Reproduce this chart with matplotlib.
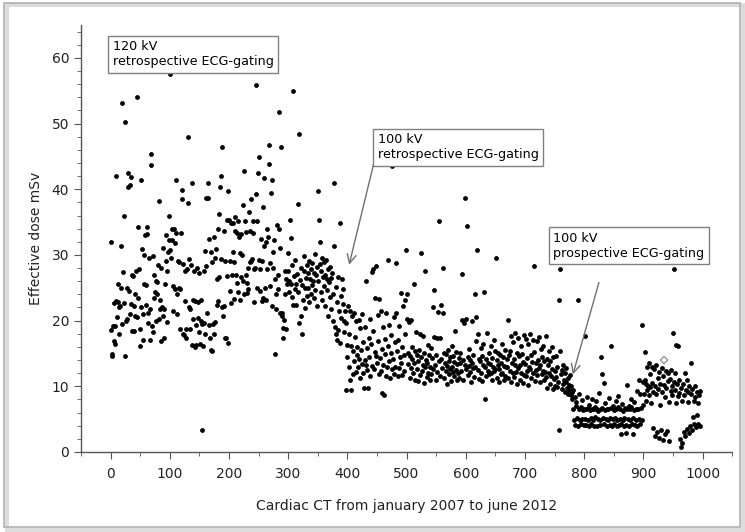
"""Effective dose per cardiac CT case, Jan 2007 - Jun 2012, with protocol changes."""
import matplotlib

matplotlib.use("Agg")
import matplotlib.pyplot as plt
from matplotlib.patches import Rectangle
from matplotlib.ticker import MultipleLocator
import numpy as np

# effective dose (mSv) per consecutive case, 50 cases per list
dose_000 = [31.9, 18.6, 14.9, 14.6, 19.2, 22.7, 16.9, 16.5, 19.2, 23.0,
            42.0, 20.5, 22.8, 25.5, 17.9, 22.0, 22.2, 25.0, 31.4, 19.5,
            53.2, 27.4, 22.7, 35.9, 50.2, 14.6, 20.0, 25.0, 20.2, 42.5,
            40.3, 24.5, 21.0, 40.7, 22.5, 41.9, 18.4, 27.0, 26.8, 18.4,
            22.2, 24.0, 20.7, 27.5, 54.0, 20.6, 23.5, 34.2, 27.8, 16.2]
dose_050 = [18.7, 22.0, 41.4, 30.9, 17.0, 21.0, 25.5, 30.0, 33.1, 22.3,
            25.4, 33.2, 34.2, 21.2, 19.7, 29.5, 17.0, 21.8, 43.7, 45.3,
            19.2, 29.9, 18.2, 23.5, 27.0, 24.3, 26.0, 20.0, 25.9, 24.0,
            28.5, 20.2, 38.2, 23.2, 21.7, 16.9, 28.0, 22.1, 20.7, 31.0,
            17.3, 21.8, 25.5, 29.0, 33.0, 27.5, 19.8, 30.5, 32.3, 35.9]
dose_100 = [57.6, 30.7, 29.6, 34.0, 32.3, 25.3, 21.5, 34.0, 24.8, 31.8,
            41.4, 33.4, 24.0, 21.0, 29.1, 28.9, 25.0, 18.7, 24.8, 33.3,
            39.9, 38.5, 18.0, 28.6, 17.8, 27.6, 23.0, 18.7, 17.4, 27.8,
            37.9, 47.9, 22.0, 29.4, 18.7, 21.8, 28.5, 41.0, 16.3, 23.2,
            20.2, 27.6, 16.0, 23.0, 19.4, 16.3, 28.0, 20.4, 22.9, 18.2]
dose_150 = [27.3, 16.5, 23.1, 20.0, 3.4, 19.5, 16.2, 27.5, 19.7, 18.0,
            30.6, 38.7, 28.3, 21.1, 38.7, 41.0, 19.4, 32.4, 17.4, 30.5,
            15.6, 15.3, 28.9, 19.5, 32.7, 17.9, 19.8, 29.6, 30.9, 22.4,
            26.3, 34.0, 23.0, 26.6, 36.3, 40.3, 42.0, 29.4, 22.0, 46.5,
            20.7, 33.7, 22.2, 17.4, 29.1, 17.3, 26.8, 35.3, 39.7, 16.6]
dose_200 = [35.3, 29.1, 24.5, 22.7, 34.9, 27.0, 30.4, 34.9, 23.3, 28.9,
            35.8, 33.6, 27.0, 33.4, 25.8, 35.2, 24.3, 32.8, 23.2, 30.3,
            26.7, 33.2, 30.0, 26.0, 37.6, 24.0, 42.8, 35.2, 27.0, 33.5,
            24.2, 25.8, 28.0, 24.8, 36.5, 28.9, 33.7, 38.5, 29.0, 29.4,
            33.4, 35.2, 27.8, 22.9, 28.0, 39.2, 55.8, 25.0, 35.2, 42.5]
dose_250 = [44.9, 29.3, 24.5, 27.8, 32.4, 23.0, 29.0, 37.3, 23.5, 31.4,
            41.7, 25.0, 31.9, 23.2, 27.8, 34.0, 32.7, 43.9, 46.7, 28.8,
            25.2, 39.4, 41.4, 22.2, 28.0, 30.4, 32.2, 26.3, 14.9, 24.0,
            21.7, 34.5, 24.8, 27.0, 33.9, 51.8, 31.0, 21.2, 46.5, 20.7,
            21.1, 18.9, 17.4, 20.1, 27.5, 24.0, 18.7, 26.3, 25.5, 30.3]
dose_300 = [27.5, 26.1, 24.3, 35.3, 25.6, 32.6, 28.4, 23.6, 22.4, 54.9,
            26.8, 24.8, 29.3, 22.4, 25.5, 27.1, 24.3, 37.8, 48.4, 19.6,
            26.2, 20.7, 28.0, 17.9, 25.4, 23.2, 27.6, 29.8, 24.9, 21.9,
            26.5, 28.4, 23.8, 27.2, 25.0, 29.0, 22.8, 26.4, 24.1, 27.9,
            25.4, 28.8, 26.1, 23.4, 27.3, 30.1, 24.7, 26.9, 22.2, 28.2]
dose_350 = [39.7, 26.0, 35.3, 32.0, 28.6, 24.3, 27.5, 29.6, 23.1, 26.7,
            25.2, 28.9, 27.0, 22.2, 29.2, 24.6, 26.3, 20.7, 27.8, 25.9,
            23.6, 28.1, 26.5, 21.8, 27.3, 19.9, 24.1, 31.3, 41.0, 19.1,
            17.9, 25.1, 22.9, 17.1, 26.6, 18.6, 21.4, 34.8, 16.6, 23.7,
            20.4, 26.3, 24.8, 22.6, 20.0, 18.2, 21.5, 19.6, 9.4, 16.3]
dose_400 = [14.5, 22.2, 13.0, 18.0, 11.0, 21.4, 9.5, 16.2, 20.7, 11.8,
            15.4, 21.2, 13.9, 17.5, 12.2, 19.9, 14.8, 16.0, 12.9, 20.1,
            14.2, 11.3, 18.8, 15.6, 13.4, 21.0, 12.0, 16.8, 9.7, 14.0,
            19.0, 26.0, 13.2, 15.9, 12.5, 9.7, 17.3, 14.4, 20.3, 11.6,
            16.5, 13.1, 27.4, 27.8, 18.4, 12.7, 15.2, 23.5, 14.6, 28.3]
dose_450 = [13.6, 20.9, 16.9, 11.8, 23.3, 14.3, 21.4, 12.4, 9.0, 15.7,
            19.0, 13.3, 8.7, 17.2, 14.9, 11.5, 21.1, 12.9, 29.3, 16.1,
            13.8, 19.4, 11.2, 15.0, 17.8, 43.5, 12.6, 14.1, 20.5, 11.9,
            16.7, 13.0, 21.1, 28.7, 15.4, 11.5, 17.0, 12.8, 19.2, 14.4,
            13.5, 24.2, 16.0, 11.7, 22.2, 14.8, 12.3, 23.2, 18.0, 30.8]
dose_500 = [24.0, 20.2, 15.0, 13.4, 19.8, 11.2, 14.6, 20.1, 12.8, 16.0,
            14.1, 12.0, 25.5, 13.6, 15.3, 11.0, 18.3, 14.7, 12.6, 10.8,
            13.9, 15.6, 11.7, 17.9, 14.4, 30.3, 12.3, 13.2, 17.6, 10.5,
            15.1, 27.5, 12.9, 14.0, 11.4, 13.6, 16.3, 12.1, 14.8, 10.9,
            13.0, 15.8, 11.9, 14.3, 12.6, 22.1, 24.7, 17.5, 13.3, 11.0]
dose_550 = [14.7, 17.4, 12.2, 21.3, 13.8, 35.2, 17.3, 11.6, 14.2, 22.4,
            12.8, 21.2, 28.0, 15.0, 11.3, 13.5, 12.4, 14.9, 10.4, 13.1,
            15.5, 11.8, 13.9, 12.7, 14.4, 10.8, 16.1, 13.0, 12.2, 14.6,
            11.5, 13.7, 18.4, 12.5, 15.2, 10.9, 13.4, 12.0, 14.3, 11.2,
            13.6, 15.0, 12.3, 27.1, 20.1, 14.0, 11.0, 19.6, 38.7, 13.2]
dose_600 = [12.6, 20.3, 34.4, 14.5, 11.7, 13.1, 15.7, 12.2, 14.0, 10.6,
            13.5, 19.9, 12.8, 14.8, 11.4, 13.0, 24.1, 20.6, 16.9, 30.7,
            12.5, 18.0, 14.2, 11.1, 13.8, 15.9, 12.0, 14.6, 10.8, 16.4,
            13.3, 24.3, 8.0, 12.9, 14.1, 11.5, 18.1, 13.6, 12.3, 15.0,
            11.9, 13.4, 12.1, 16.2, 14.3, 10.9, 13.0, 17.1, 12.4, 15.4]
dose_650 = [12.7, 29.6, 14.0, 11.3, 13.2, 15.1, 10.7, 12.6, 14.8, 11.8,
            13.6, 16.5, 12.0, 14.4, 10.9, 13.1, 15.6, 11.6, 12.9, 14.2,
            13.0, 11.2, 20.1, 14.7, 12.4, 15.3, 17.6, 10.6, 13.5, 12.1,
            16.8, 14.1, 11.4, 18.1, 13.3, 12.2, 15.0, 10.4, 17.3, 12.8,
            14.6, 11.0, 13.2, 16.1, 12.0, 14.9, 10.5, 13.7, 17.8, 11.7]
dose_700 = [13.4, 17.2, 11.5, 14.3, 12.3, 16.4, 10.2, 13.0, 18.0, 12.6,
            14.8, 11.2, 13.7, 17.0, 12.0, 15.2, 28.3, 10.8, 13.6, 12.5,
            16.9, 11.7, 14.0, 12.8, 17.5, 10.6, 13.3, 15.7, 11.9, 14.5,
            12.4, 16.1, 10.9, 13.9, 12.2, 17.6, 11.4, 14.1, 9.8, 13.2,
            15.3, 12.0, 10.4, 13.8, 11.6, 16.0, 12.7, 9.6, 14.4, 11.1]
dose_750 = [12.3, 10.1, 14.6, 11.4, 9.9, 13.0, 10.7, 23.1, 3.3, 15.3,
            27.9, 11.8, 9.6, 12.5, 10.4, 13.3, 11.0, 9.2, 12.1, 10.6,
            12.8, 9.8, 11.3, 8.9, 10.2, 9.5, 11.7, 8.6, 10.0, 9.1,
            8.1, 6.6, 9.4, 4.9, 8.4, 4.1, 7.0, 7.6, 5.2, 23.1,
            4.0, 6.5, 8.8, 4.8, 6.8, 4.2, 7.9, 5.0, 6.4, 4.1]
dose_800 = [6.6, 17.7, 5.0, 4.1, 6.5, 8.3, 4.9, 6.7, 3.9, 7.2,
            6.4, 5.1, 4.2, 6.6, 8.0, 4.8, 6.5, 4.0, 5.3, 6.8,
            7.7, 3.9, 6.6, 5.0, 6.3, 9.0, 4.1, 4.9, 6.5, 14.5,
            11.8, 6.7, 5.1, 10.5, 4.2, 6.4, 7.4, 5.0, 6.6, 4.0,
            4.8, 6.5, 8.2, 4.1, 5.2, 16.2, 6.7, 3.9, 7.0, 5.0]
dose_850 = [6.4, 4.2, 5.1, 7.8, 6.6, 4.0, 4.9, 6.8, 8.5, 4.1,
            5.0, 6.5, 2.8, 4.2, 7.3, 4.8, 6.3, 3.9, 5.2, 6.7,
            4.1, 2.9, 6.5, 10.2, 5.0, 7.0, 4.0, 6.6, 4.9, 8.0,
            6.8, 4.2, 5.1, 2.8, 6.4, 7.6, 4.1, 4.9, 6.6, 9.3,
            4.0, 6.5, 11.0, 5.0, 8.8, 4.2, 6.7, 19.4, 4.9, 7.1]
dose_900 = [10.7, 8.9, 11.0, 15.2, 10.3, 7.7, 9.5, 12.9, 10.1, 8.6,
            13.5, 9.9, 11.8, 7.4, 10.5, 13.0, 3.6, 9.2, 12.6, 2.5,
            10.0, 8.8, 13.2, 3.0, 11.3, 9.6, 2.1, 12.2, 7.2, 10.4,
            3.4, 12.8, 9.1, 1.8, 11.5, 10.2, 8.3, 2.7, 12.4, 9.7,
            3.2, 10.8, 12.0, 7.6, 1.6, 11.1, 9.3, 12.5, 10.0, 8.7]
dose_950 = [18.1, 10.6, 27.8, 9.4, 12.1, 7.5, 16.3, 10.3, 8.5, 16.1,
            11.0, 9.0, 2.0, 0.8, 9.8, 7.7, 1.4, 10.4, 3.0, 8.6,
            12.0, 2.4, 9.5, 11.0, 3.5, 7.6, 9.2, 2.9, 10.1, 4.0,
            8.8, 13.5, 3.3, 9.6, 5.4, 7.7, 4.2, 10.0, 8.3, 3.8,
            9.1, 5.7, 4.3, 7.5, 8.6, 3.9, 9.3]

# the single open-diamond case
odd_case = [935]
odd_dose = [14.0]

blocks = [dose_000, dose_050, dose_100, dose_150, dose_200, dose_250,
          dose_300, dose_350, dose_400, dose_450, dose_500, dose_550,
          dose_600, dose_650, dose_700, dose_750, dose_800, dose_850,
          dose_900, dose_950]
dose = np.concatenate([np.asarray(b, dtype=float) for b in blocks])
case = np.arange(len(dose))

fig = plt.figure(figsize=(7.45, 5.32), dpi=100)
# picture frame with a soft shadow
fig.patches.append(Rectangle((0.009, 0.004), 0.988, 0.986, transform=fig.transFigure,
                             fill=False, edgecolor="#dcdcdc", lw=3))
fig.patches.append(Rectangle((0.005, 0.010), 0.988, 0.984, transform=fig.transFigure,
                             fill=False, edgecolor="#b0b0b0", lw=1.2))

ax = fig.add_axes([0.1087, 0.1504, 0.874, 0.8026])
ax.scatter(case, dose, s=12, c="black", linewidths=0, zorder=3)
ax.scatter(odd_case, odd_dose, s=14, marker="D", facecolors="none",
           edgecolors="#808080", linewidths=0.8, zorder=3)

ax.set_xlim(-50, 1050)
ax.set_ylim(0, 65)
ax.xaxis.set_major_locator(MultipleLocator(100))
ax.xaxis.set_minor_locator(MultipleLocator(50))
ax.yaxis.set_major_locator(MultipleLocator(10))
ax.yaxis.set_minor_locator(MultipleLocator(2))
for side in ("top", "right"):
    ax.spines[side].set_visible(False)
for side in ("left", "bottom"):
    ax.spines[side].set_color("#555555")
    ax.spines[side].set_linewidth(1.0)
ax.tick_params(which="major", length=5, color="#555555", labelsize=10,
               labelcolor="#222222")
ax.tick_params(which="minor", length=3, color="#555555")
ax.tick_params(axis="x", pad=6)

ax.set_xlabel("Cardiac CT from january 2007 to june 2012", fontsize=10,
              color="#222222", labelpad=13)
ax.set_ylabel("Effective dose mSv", fontsize=10, color="#222222", labelpad=6)

box = dict(boxstyle="square,pad=0.35", facecolor="white", edgecolor="#808080", lw=1)
ax.text(4, 62.7, "120 kV\nretrospective ECG-gating", fontsize=9.2, va="top",
        ha="left", bbox=box, zorder=4)
ax.text(451, 48.5, "100 kV\nretrospective ECG-gating", fontsize=9.2, va="top",
        ha="left", bbox=box, zorder=4)
ax.text(748, 33.5, "100 kV\nprospective ECG-gating", fontsize=9.2, va="top",
        ha="left", bbox=box, zorder=4)

arrow = dict(arrowstyle="->", color="#707070", lw=1, mutation_scale=16,
             shrinkA=0, shrinkB=0)
ax.annotate("", xy=(403, 28.5), xytext=(444, 43.7), arrowprops=arrow, zorder=4)
ax.annotate("", xy=(781, 11.8), xytext=(825, 25.8), arrowprops=arrow, zorder=4)

fig.savefig("out.png", dpi=100)
